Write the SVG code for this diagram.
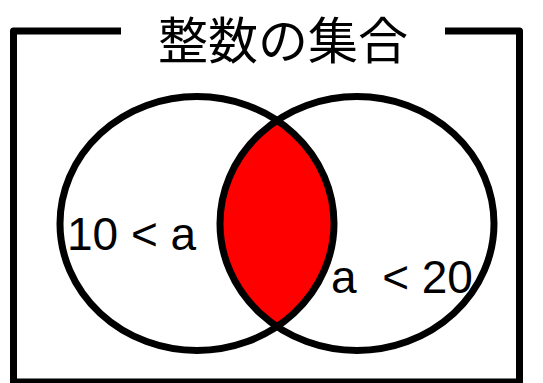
<svg xmlns="http://www.w3.org/2000/svg" width="543" height="383" viewBox="0 0 543 383">
  <style>
    .ln { fill: none; stroke: #000; stroke-width: 7; }
    .lbl { font-family: "Liberation Sans", Arial, sans-serif; font-size: 46px; fill: #000; white-space: pre; }
    .ttl { font-family: "Noto Sans CJK JP", "Noto Sans CJK SC", sans-serif; font-size: 50px; fill: #000; }
  </style>
  <rect width="543" height="383" fill="#fff"/>
  <g id="frame">
    <path class="ln" d="M121,31 H13.5 V382 H519.5 V31 H445" stroke-linejoin="round"/>
    <text class="ttl" x="283" y="59" text-anchor="middle">整数の集合</text>
  </g>
  <g id="intersection">
    <path d="M277,120.5 A137,127 0 0,1 277,326.5 A137,127 0 0,1 277,120.5 Z" fill="#ff0000"/>
  </g>
  <g id="setA">
    <ellipse class="ln" cx="197" cy="223.5" rx="137" ry="127"/>
    <text class="lbl" x="67" y="250" xml:space="preserve">10 &lt; a</text>
  </g>
  <g id="setB">
    <ellipse class="ln" cx="357" cy="223.5" rx="137" ry="127"/>
    <text class="lbl" x="331" y="293" xml:space="preserve">a  &lt; 20</text>
  </g>
</svg>
